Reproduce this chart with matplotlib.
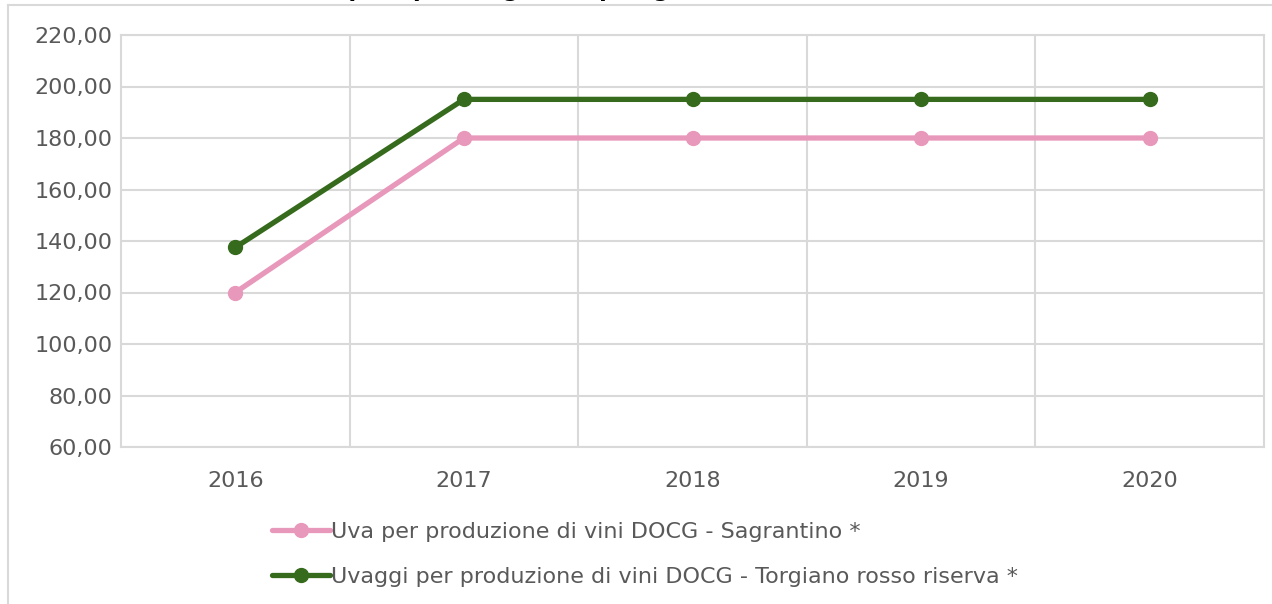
import matplotlib
matplotlib.use("Agg")
import matplotlib.pyplot as plt
from matplotlib.ticker import FuncFormatter, MultipleLocator, FixedLocator
from matplotlib.lines import Line2D

years = ["2016", "2017", "2018", "2019", "2020"]
sagrantino = [120.0, 180.0, 180.0, 180.0, 180.0]
torgiano = [137.5, 195.0, 195.0, 195.0, 195.0]
labels = ["Uva per produzione di vini DOCG - Sagrantino *",
          "Uvaggi per produzione di vini DOCG - Torgiano rosso riserva *"]

plt.rcParams['font.family'] = ['DejaVu Sans']
text_color = '#595959'
grid_color = '#D9D9D9'
pink = '#E898BA'
green = '#366B1D'
fs = 16

fig = plt.figure(figsize=(12.72, 6.04), dpi=100)
ax = fig.add_axes([121/1272, 1-447/604, (1264-121)/1272, (447-35)/604])

x = list(range(len(years)))
ax.plot(x, sagrantino, color=pink, lw=3.8, marker='o', ms=10, label=labels[0], solid_capstyle='round', zorder=3)
ax.plot(x, torgiano, color=green, lw=3.8, marker='o', ms=10, label=labels[1], solid_capstyle='round', zorder=3)

ax.set_xlim(-0.5, len(years) - 0.5)
ax.set_ylim(60, 220)
ax.yaxis.set_major_locator(MultipleLocator(20))
ax.yaxis.set_major_formatter(FuncFormatter(lambda v, p: f"{v:.2f}".replace('.', ',')))
ax.set_xticks(x)
ax.set_xticklabels(years)
ax.xaxis.set_minor_locator(FixedLocator([i + 0.5 for i in range(len(years) - 1)]))
ax.grid(True, which='major', axis='y', color=grid_color, lw=1.5)
ax.grid(True, which='minor', axis='x', color=grid_color, lw=1.5)
ax.set_axisbelow(True)
for s in ax.spines.values():
    s.set_color(grid_color)
    s.set_linewidth(1.5)
ax.tick_params(axis='both', which='both', length=0, labelsize=fs, colors=text_color)
ax.tick_params(axis='y', pad=6)
ax.tick_params(axis='x', pad=17)

fig.legend(handles=ax.get_lines(), labels=labels, loc='upper left',
           bbox_to_anchor=(272/1272, 1-522/604), frameon=False, fontsize=fs,
           handlelength=2.6, handletextpad=0.05, labelspacing=1.12, borderpad=0,
           borderaxespad=0, numpoints=1, labelcolor=text_color)

# outer chart border (partially visible)
fig.add_artist(Line2D([8/1272, 8/1272], [0, 1-5/604], color=grid_color, lw=1.5, transform=fig.transFigure))
fig.add_artist(Line2D([8/1272, 1], [1-5/604, 1-5/604], color=grid_color, lw=1.5, transform=fig.transFigure))

# title, cropped at the top edge as in the reference
fig.text(330/1272, 1+3/604, "(q/ha) per vitigno e tipologia", fontsize=16,
         fontweight='bold', color='black', ha='left', va='baseline')

fig.savefig("out.png", dpi=100)
